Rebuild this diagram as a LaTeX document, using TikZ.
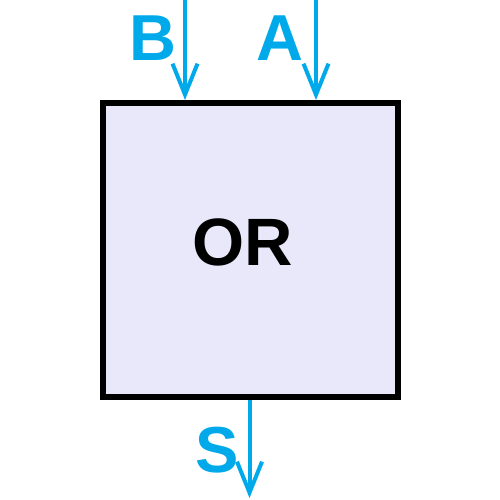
\documentclass[tikz,border=0pt]{standalone}
\usepackage{fontspec}
\setmainfont{Liberation Sans}
\usetikzlibrary{arrows.meta}
\definecolor{sig}{HTML}{00AAEA}
\definecolor{boxfill}{HTML}{E8E8FA}
\begin{document}
\begin{tikzpicture}[x=1pt,y=-1pt,
  gate/.style={draw=black,line width=6pt,fill=boxfill,minimum width=295pt,minimum height=294pt,inner sep=0pt},
  gatetext/.style={inner sep=0pt,anchor=base,font=\fontsize{67}{67}\selectfont\bfseries},
  sigline/.style={draw=sig,line width=4pt,-{Straight Barb[length=31pt,width=25pt,line width=4pt]}},
  siglabel/.style={text=sig,inner sep=0pt,anchor=base,font=\fontsize{65}{65}\selectfont\bfseries}
]
\useasboundingbox (0,0) rectangle (500,500);
\node[gate] (or) at (250.5,250) {};
\node[gatetext] (ort) at (242.5,265) {OR};
\node[siglabel] (lb) at (152.5,61) {B};
\node[siglabel] (la) at (279.5,61) {A};
\node[siglabel] (ls) at (217,472) {S};
\coordinate (bs) at (185,0);
\coordinate (be) at (185,100);
\coordinate (as) at (316,0);
\coordinate (ae) at (316,100);
\coordinate (ss) at (249.5,400);
\coordinate (se) at (249.5,498);
\draw[sigline] (bs) -- (be);
\draw[sigline] (as) -- (ae);
\draw[sigline] (ss) -- (se);
\end{tikzpicture}
\end{document}
